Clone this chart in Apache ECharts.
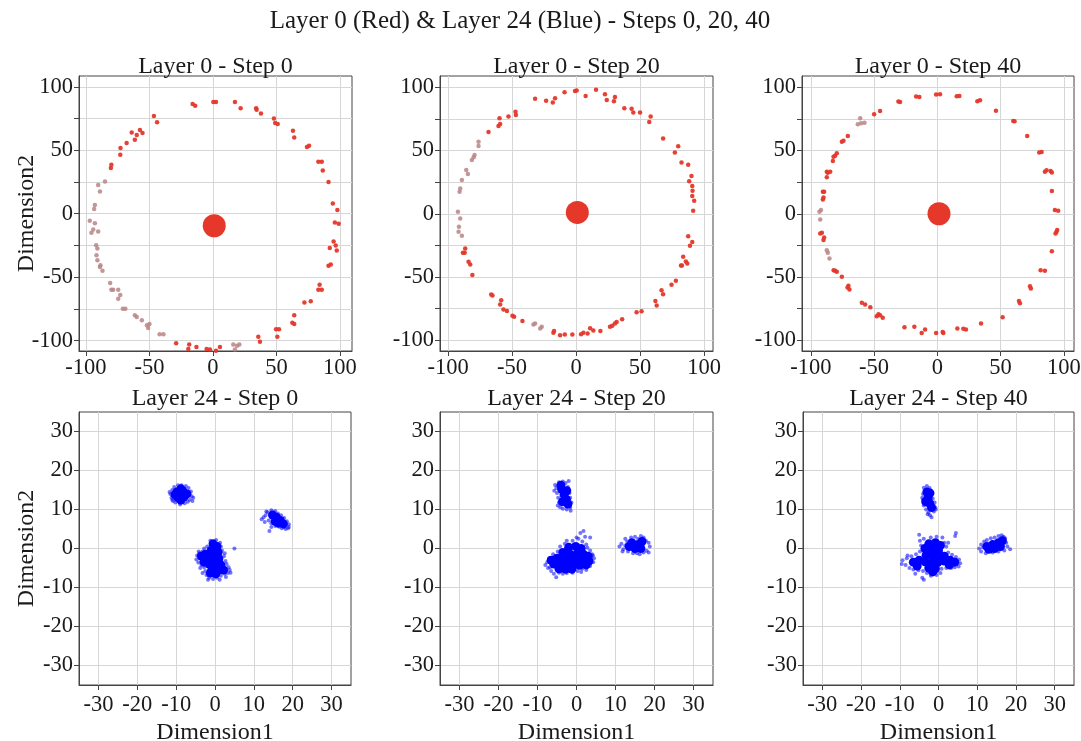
<!DOCTYPE html>
<html><head><meta charset="utf-8">
<script src="https://cdn.jsdelivr.net/npm/echarts@6/dist/echarts.min.js"></script>
<style>html,body{margin:0;padding:0;background:#fff}#c{width:1081px;height:741px}</style>
</head><body><div id="c"></div>
<script>
const mainTitle = 'Layer 0 (Red) & Layer 24 (Blue) - Steps 0, 20, 40';
const subTitles = ['Layer 0 - Step 0','Layer 0 - Step 20','Layer 0 - Step 40','Layer 24 - Step 0','Layer 24 - Step 20','Layer 24 - Step 40'];
const topTicksX = [-100,-50,0,50,100];
const topTicksY = [-100,-75,-50,-25,0,25,50,75,100];
const topLabelsY = [-100,-50,0,50,100];
const botTicks = [-30,-20,-10,0,10,20,30];

// Layer 0, Step 0
const l0s0Red = [[-16,86.5],[-14,85],[0.3,88],[2.4,88],[17.3,88],[21.8,83],[34,83],[34.4,82],[37.8,79],[48,75],[49,71.5],[51,70.7],[63,65.4],[64,60],[74,52.5],[75.7,53.5],[83,41],[85.7,41],[86.5,34],[91,25],[94.4,8],[98,3],[96,-7],[99,-8],[95,-22],[96.7,-25],[97.5,-29],[92,-27],[91,-41],[92.8,-40],[84,-56],[85.7,-60],[83,-60],[72,-70],[77,-69],[64,-80],[62.5,-86],[64,-87],[49.7,-91],[50.7,-97],[52,-91],[35.7,-97],[37,-101],[5.5,-105],[-2.4,-107],[-5,-106.6],[2.4,-108],[-13,-105],[-18.7,-103],[-19.4,-106.6],[-29,-102],[-73,46.4],[-72.8,51.7],[-68,55.7],[-61.5,58.3],[-64,64],[-60,62],[-57.5,66],[-55.5,63.6],[-46.5,77],[-44,72],[-80.4,36],[-80,38.5]];
const l0s0Grey = [[16,-103],[19,-104],[20.8,-103],[17.3,-107],[-42,-95],[-39,-95],[-51,-90],[-52,-88],[-50,-87],[-56,-84],[-61.5,-80],[-60,-81.5],[-69,-75],[-71,-75],[-74.6,-67],[-73,-64],[-74.6,-60],[-81,-54.6],[-80,-60],[-78.6,-60],[-89,-42],[-87,-45],[-88.6,-40.6],[-91.7,-32.7],[-91,-27.4],[-92,-24.8],[-91,-36.7],[-95.7,-15],[-94.3,-12.4],[-90.4,-14],[-93,-7.6],[-97,-5.5],[-93.6,3.7],[-93,6.9],[-89,17.4],[-90.4,22.7],[-85,25.3]];
const l0s0Center = [[1,-9.5]];

// Layer 0, Step 20
const l0s20Red = [[-32,91],[-23.4,89.4],[-18.2,87.9],[-16.4,91.3],[-9,96],[-0.8,97],[0.5,97.4],[7.5,93],[15.6,98],[22.6,94.5],[24,90],[30.4,92.3],[29.6,89],[37.7,83.4],[43.4,83],[44.7,80],[50,80],[58.3,76.8],[57.2,72.6],[68,59.4],[77.2,48.5],[79.8,53.3],[82.4,40.6],[87.6,38.8],[88.4,25.6],[90.2,29.8],[90.8,21.9],[91,18.2],[90.8,14],[92.3,10.3],[91.5,2.4],[87.6,-17.7],[89,-25.3],[90.8,-22.4],[83.7,-34],[85.8,-37.7],[86.9,-39.3],[82,-41],[82.7,-41],[78,-53],[74.6,-56.2],[66.8,-60.4],[68,-63.6],[62,-69],[63,-72.6],[47.3,-77.8],[51.2,-77],[36,-83.4],[30.4,-86.8],[28.3,-88.6],[31.7,-85.5],[26.5,-89.4],[19,-92.6],[13.5,-92.3],[11,-90.5],[5.7,-94],[3.9,-95.3],[9,-94.7],[-2.9,-95.5],[-8.8,-95.5],[-12.5,-96],[-17.7,-94],[-17.2,-92.6],[-41.9,-84.7],[-48.4,-81.5],[-49.7,-80.7],[-54,-76.8],[-56.7,-75.7],[-58.5,-68.3],[-59.3,-71.8],[-66.3,-63.8],[-65.3,-64.6],[-81,-48.5],[-82.7,-40.1],[-84,-38],[-87,-30.9],[-86.6,-27.4],[-88.4,-30.9],[-68.4,64.6],[-59.8,75.5],[-59.3,71],[-60.6,69.4],[-52.8,76.8],[-47.3,80.7],[-47,78]];
const l0s20Grey = [[-26.8,-89.4],[-28,-90.8],[-33.3,-87.6],[-32,-86.8],[-89.2,-17.4],[-91.8,-14.2],[-91.5,-10.3],[-90.5,-3.7],[-92.3,1.6],[-91,17.4],[-90.5,20],[-89.2,26.6],[-85.8,34.6],[-84.5,31.4],[-80,44.6],[-79.3,46.4],[-81.4,42.5],[-76.2,57],[-76.2,53.6]];
const l0s20Center = [[1,1]];

// Layer 0, Step 40
const l0s40Red = [[-30.8,88.7],[-29.5,88.4],[-16.8,92.6],[-14.2,92.3],[-1,94.2],[2.1,94.5],[15.3,92.9],[17.4,93.1],[31.6,88.9],[33.7,89.7],[46.3,81.5],[60,73.4],[61,73.1],[71,61.5],[80.5,48.5],[82.4,48.8],[85,33.2],[86.3,34.3],[89.5,33.8],[90.5,32.7],[90.5,17.9],[92.9,2.9],[95.5,2.4],[94.2,-14.2],[94.7,-12.9],[93.4,-15.6],[90.5,-29.6],[81.6,-44.6],[85,-45.1],[73.2,-57.3],[73.9,-59.1],[64.5,-68.9],[65.3,-70.7],[51.6,-81.8],[34.5,-86.8],[20.5,-91],[22.6,-91.6],[15.8,-90.8],[4.7,-94.2],[4.2,-93.4],[-1,-94.2],[-9.7,-91.6],[-12.4,-94.2],[-18.2,-89.4],[-26,-89.7],[-43.2,-82.3],[-46.6,-79.4],[-47.9,-81],[-45.3,-80.2],[-53,-73.9],[-57.1,-71.8],[-59.7,-70.4],[-70.3,-57],[-69.5,-59.9],[-71,-58.3],[-75.5,-49.9],[-80.8,-45.1],[-82,-44.6],[-79.5,-45.9],[-90,-20.8],[-89.5,-18.7],[-91.3,-15],[-92.6,-15.6],[-90.5,11.3],[-90,12.9],[-90.5,17.4],[-89.5,17.4],[-87.4,28.8],[-84.7,33.2],[-86.6,32.5],[-87.4,33.2],[-82.6,41.7],[-80.8,45.9],[-79.5,47.8],[-82.1,45.1],[-75.5,57],[-74.2,57.8],[-70.8,61.5],[-50,78.6],[-45.3,81.3]];
const l0s40Grey = [[-85.3,-35.4],[-86.6,-30.9],[-87.4,-28.8],[-92.6,-4.5],[-93.2,1.6],[-92,2.9],[-62.9,70.7],[-60.3,71.5],[-57.6,72],[-61,75.5]];
const l0s40Center = [[1.3,0]];

// Layer 24, Step 0
const l24s0Core = [[-9.8,14.5],[-8.3,14.8],[-9.5,13],[-8,13.2],[-7.2,14],[-10.3,13.8],[-8.8,12.4],[-8.8,15.3],
  [14.8,8.6],[15.8,8],[16.8,7.2],[17.6,6.3],[15.5,7],[16.3,6.5],
  [-0.5,1.2],[0.5,0.5],[-1,-0.5],[0.8,-1],[-2.5,-1.5],[-3.5,-2],[-2,-2.8],[-0.5,-2.2],[1,-2.6],[-1.5,-4],[0,-4],[1.5,-4.2],[-0.8,-5.3],[0.8,-5.6],[2.2,-5.5],[-1.2,-6.3],[0.2,-6.5],[-2.8,-3.5],[-0.3,-3.1]];
const l24s0Spread = [[-11.5,14],[-11.2,13],[-11,15],[-10.8,12.2],[-10.2,11.8],[-9,11.3],[-7.8,11.6],[-6.5,12.5],[-6,13.4],[-5.6,13],[-6.2,14.6],[-6.8,15.5],[-7.5,16],[-8.6,16.2],[-9.5,16.2],[-10.5,15.8],[-11.7,14.5],[-7,12],[-5.8,12.2],[-11,12.5],
  [13,8.5],[12.5,8],[12,7.5],[13.5,9.3],[14.5,9.8],[15.5,9.6],[16.2,9],[17,8.5],[17.8,7.8],[18.5,7],[19,6.2],[19,5.5],[18.2,5],[17.2,5.2],[16.5,5.6],[15.5,5.8],[14.5,6.5],[13.8,7.2],[14,4.5],[14.5,5.5],[12.8,6.8],[18.8,5.2],[17.8,5.5],[13.2,9.5],
  [-1.2,2],[0.3,2.2],[1.3,1.5],[1.5,0.5],[1.8,-0.5],[-2,0.5],[-2.8,0],[-4.2,-0.8],[-4.6,-1.8],[-4.8,-2.8],[-4.3,-3.6],[-3.5,-4.2],[-2.8,-4.8],[-2.5,-5.8],[-2.2,-6.8],[-1.5,-7.5],[-0.5,-7.8],[0.5,-7.5],[1.5,-7],[2.5,-6.5],[3.3,-6.3],[3.8,-5.5],[3.5,-4.8],[3,-4],[2.7,-3.2],[2.3,-2],[2.5,-1.2],[-3.8,-5],[4,-6.2],[-1.8,-8],[-3.2,-6.3],[5,0],[2.8,-7.3],[1.2,-8],[-4,-1.2],[-3.2,-0.8]];

// Layer 24, Step 20
const l24s20Core = [[-3.8,15.2],[-3.2,13.8],[-2.6,12.6],[-2.2,11.4],[-3.6,12],[-2.5,14.8],[-4,16.2],
  [14.2,1.5],[15.8,1],[16.8,1.8],[15,0],[16.5,0],[13.5,0.5],
  [-2,0.3],[-0.2,0.5],[1.2,0],[-3.5,-1],[-1.8,-1.3],[0,-1.5],[1.8,-1.5],[3,-2],[-5,-2.5],[-3.5,-2.6],[-1.8,-2.8],[0,-3],[1.8,-3],[3.2,-3.2],[-5.8,-4],[-4.2,-4],[-2.5,-4.2],[-0.8,-4.3],[0.8,-4.3],[-4.5,-5.2],[-2.8,-5.3],[-1.2,-5.3],[-6.5,-3],[2.5,-4.2]];
const l24s20Spread = [[-5.2,15.5],[-5,14.2],[-4.7,13],[-4.5,11.8],[-4.2,10.6],[-3.5,10.2],[-2.5,10],[-1.6,10.5],[-1.3,11.8],[-1.6,13],[-1.8,14.2],[-2.2,15.8],[-2.8,16.8],[-3.5,17.2],[-4.5,17],[-5.5,16.3],[-2,17.3],[-5.7,14.8],[-4.8,11],[-1.5,9.7],
  [11,0.5],[11.5,1.2],[12,-0.2],[12.5,0.8],[13,1.8],[13.2,-0.8],[14,2.8],[14.5,-1.2],[15,3],[15.8,2.5],[16.5,3.2],[17.2,2.8],[17.8,2],[18.5,1.5],[18.8,0.5],[18,-0.6],[17.2,-1],[16.2,-1.5],[15.5,-1.2],[11.8,-0.8],[18.5,-1],[12.5,2.5],
  [-1,2],[0.5,2.5],[1.5,1.8],[2.5,1],[2.2,3],[1,4],[1.8,4.5],[3.5,2.8],[-3,1.2],[-4.2,0.5],[-4.8,-0.8],[-6,-1.5],[-7,-2.5],[-7.5,-3.5],[-8,-4.2],[-7.3,-5],[-6.5,-5.8],[-5.8,-6.5],[-5.2,-7.4],[-4.5,-6.2],[-3.5,-6.5],[-2.5,-6.3],[-1,-6.2],[0.3,-5.8],[1.5,-5.2],[2.5,-5.5],[3.5,-4.5],[4.3,-3.5],[4.5,-2.5],[4,-1.5],[3.5,-0.5],[2.8,0.2],[-2.5,2],[0,2.8],[-6.8,-4.8],[-4,-5.8],[1.2,-6],[4.2,-1.8]];

// Layer 24, Step 40
const l24s40Core = [[-3,14.5],[-2.7,13],[-2.3,11.6],[-1.8,10.5],[-3.3,12],[-2.2,14.2],
  [12.5,0.5],[14,1],[15.5,1.5],[16.5,2],[14.5,0],[13,-0.2],[16,0.5],
  [-2.5,1.2],[-0.8,1.5],[0.5,0.8],[-3.5,0],[-1.8,-0.2],[0,-0.5],[-3.2,-1.7],[-1.5,-1.8],[0.2,-2],[1.5,-2],[-3.5,-3.4],[-1.8,-3.5],[-0.2,-3.6],[1.5,-3.2],[3,-3],[4.2,-3.5],[-2.5,-5],[-0.8,-5.2],[-1.5,-6],[-5,-3],[-6.5,-3.5],[2.8,-4.2],[-5.5,-4.5]];
const l24s40Spread = [[-3.8,15.6],[-3,16],[-2.3,15.5],[-4,14],[-4,12.5],[-3.8,11],[-3.2,10],[-2.6,9.2],[-2.2,8.5],[-1.8,8],[-1.2,9.5],[-0.8,10.5],[-1,11.8],[-1.5,12.8],[-1.8,14],[-4.2,13],[-0.7,10],[-2.8,8.8],
  [10.5,0],[11,1],[11,-0.8],[11.8,1.8],[12.5,2.2],[13.5,2.6],[14.5,2.8],[15.5,3.2],[16.3,3.4],[17.2,2.6],[17.5,1.5],[17.8,0.5],[18.5,-0.2],[17,-0.5],[15.5,-0.8],[14,-1],[12.2,-1.2],[11.5,0.3],[16.8,3],
  [-3.8,2.5],[-2,2.8],[-0.5,3],[1,2.8],[1.5,1.5],[2,0.5],[2.5,-1],[3.5,-1.6],[4.5,-2.2],[5.3,-2.8],[5.6,-3.8],[5.2,-4.6],[4.2,-4.8],[3.3,-5],[2,-5],[0.8,-5.2],[0.5,-6.3],[-0.5,-6.8],[-2,-7],[-3,-6.3],[-4,-5.8],[-5.2,-5.6],[-6.5,-5.4],[-7.5,-5],[-8.5,-4.2],[-9.3,-3],[-8.2,-2.5],[-7,-2],[-5.8,-1.5],[-4.8,-0.8],[-4.5,0.8],[-4.8,2],[-5,3.5],[-8,-1.8],[-4.2,-7.5],[4.5,4],[4.3,3.2],[-6,-6.5],[-3.8,-8],[2.5,1.5],[-9.5,-4]];

const FONT = 'Liberation Serif';
const TXT = '#1a1a1a';
const grids = [
  {left:79, top:76, width:273, height:275},
  {left:440, top:76, width:273, height:275},
  {left:802, top:76, width:272, height:275},
  {left:79, top:412, width:272, height:273},
  {left:440, top:412, width:273, height:273},
  {left:803, top:412, width:271, height:273}
];
const xRanges = [[-105.5,109.5],[-106.3,107],[-107,108],[-35,35],[-35,35],[-35,35]];
const yRanges = [[-108.2,108.5],[-108.5,108.9],[-108.5,108.9],[-35,35],[-35,35],[-35,35]];

function axisCommon(i, isX) {
  const top = i < 3;
  const ticks = top ? (isX ? topTicksX : topTicksY) : botTicks;
  const labels = top ? (isX ? topTicksX : topLabelsY) : botTicks;
  const r = isX ? xRanges[i] : yRanges[i];
  return {
    type: 'value', gridIndex: i, min: r[0], max: r[1],
    axisLine: {show: true, onZero: false, lineStyle: {color: '#444', width: 1}},
    axisTick: {show: true, inside: false, length: 5, customValues: ticks, lineStyle: {color: '#444'}},
    axisLabel: {show: true, customValues: labels, margin: (isX && !top) ? 9 : 6, fontFamily: FONT, fontSize: 22.5, color: TXT},
    splitLine: {show: true, lineStyle: {color: '#d6d6d6', width: 1}}
  };
}
const xAxes = [], yAxes = [];
for (let i = 0; i < 6; i++) {
  const xa = axisCommon(i, true);
  if (i >= 3) { xa.name = 'Dimension1'; xa.nameLocation = 'middle'; xa.nameGap = 36; xa.nameTextStyle = {fontFamily: FONT, fontSize: 24, color: TXT}; }
  xAxes.push(xa);
  const ya = axisCommon(i, false);
  if (i === 0 || i === 3) { ya.name = 'Dimension2'; ya.nameLocation = 'middle'; ya.nameGap = 40; ya.nameMoveOverlap = false; ya.nameTextStyle = {fontFamily: FONT, fontSize: 24, color: TXT}; }
  yAxes.push(ya);
}

const RED = '#e5372a', GREY = '#b98585', BLUE = '#0000ff';
const series = [];
const topSets = [[l0s0Red, l0s0Grey, l0s0Center],[l0s20Red, l0s20Grey, l0s20Center],[l0s40Red, l0s40Grey, l0s40Center]];
topSets.forEach((s, i) => {
  series.push({type:'scatter', xAxisIndex:i, yAxisIndex:i, data:s[1], symbolSize:4.5, itemStyle:{color:GREY, opacity:0.85}, silent:true});
  series.push({type:'scatter', xAxisIndex:i, yAxisIndex:i, data:s[0], symbolSize:4.5, itemStyle:{color:RED, opacity:0.95}, silent:true});
  series.push({type:'scatter', xAxisIndex:i, yAxisIndex:i, data:s[2], symbolSize:23, itemStyle:{color:RED, opacity:1}, silent:true});
});
const botSets = [[l24s0Core, l24s0Spread],[l24s20Core, l24s20Spread],[l24s40Core, l24s40Spread]];
botSets.forEach((s, k) => {
  const i = k + 3;
  series.push({type:'scatter', xAxisIndex:i, yAxisIndex:i, data:s[1], symbolSize:4, itemStyle:{color:BLUE, opacity:0.55}, silent:true});
  series.push({type:'scatter', xAxisIndex:i, yAxisIndex:i, data:s[0], symbolSize:9, itemStyle:{color:BLUE, opacity:1}, silent:true});
});

const titles = [{text: mainTitle, left: 520, top: 9, textAlign: 'center', padding: 0, textStyle:{fontFamily: FONT, fontSize: 25, fontWeight: 'normal', color: TXT}}];
subTitles.forEach((t, i) => {
  const g = grids[i];
  titles.push({text: t, left: g.left + g.width/2, top: i < 3 ? 55 : 387, textAlign: 'center', padding: 0, textStyle:{fontFamily: FONT, fontSize: 24, fontWeight: 'normal', color: TXT}});
});

const chart = echarts.init(document.getElementById('c'), null, {renderer: 'canvas'});
chart.setOption({
  backgroundColor: '#fff',
  animation: false,
  title: titles,
  grid: grids.map(g => Object.assign({show: true, borderColor: '#444', borderWidth: 1, backgroundColor: '#fff', containLabel: false, outerBoundsMode: 'none'}, g)),
  xAxis: xAxes,
  yAxis: yAxes,
  series: series
});
</script></body></html>
